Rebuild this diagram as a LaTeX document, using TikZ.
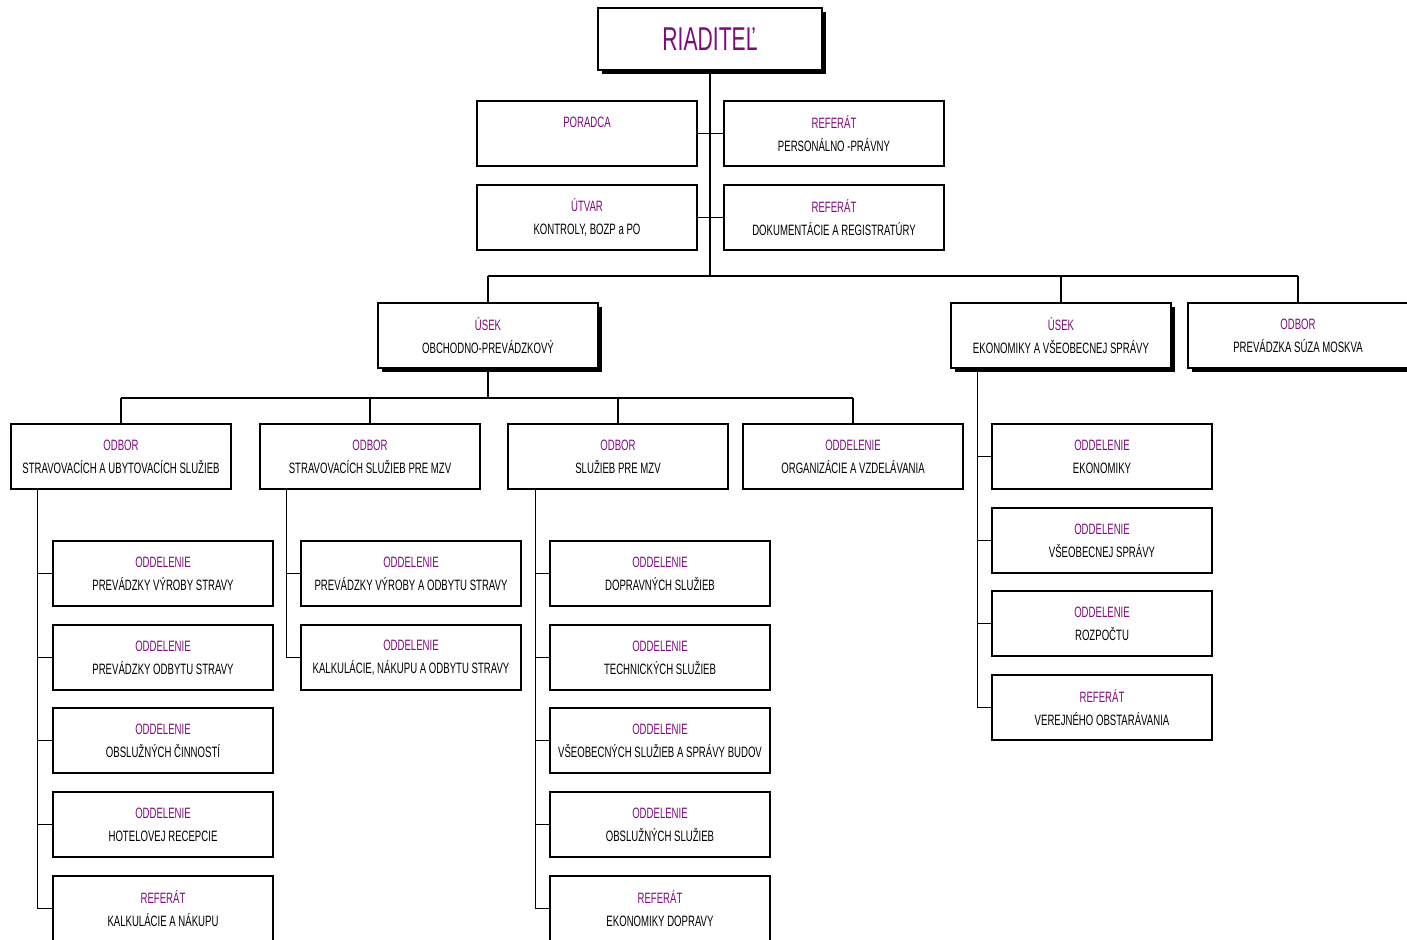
\documentclass[tikz,border=0pt]{standalone}
\usepackage{fontspec}
\setmainfont{Liberation Sans}[FakeStretch=0.64]
\usetikzlibrary{shadows}
\definecolor{labc}{RGB}{128,10,128}
\newcommand{\lb}[1]{\textcolor{labc}{#1}}
\begin{document}
\begin{tikzpicture}[x=1pt,y=-1pt,
  box/.style={draw=black, line width=1.4pt, fill=white, minimum width=220pt, minimum height=65pt,
    inner sep=0pt, align=center, font=\fontsize{15}{23}\selectfont},
  sbox/.style={box, drop shadow={shadow xshift=4pt, shadow yshift=-4pt, fill=black, opacity=1}},
  con/.style={line width=1.3pt}]
\useasboundingbox[fill=white] (0,0) rectangle (1407,939);
\clip (0,0) rectangle (1407,939);

% top
\node[sbox, minimum width=224pt, minimum height=62pt, font=\fontsize{33}{33}\selectfont] (riad) at (710,39) {\lb{RIADITEĽ}};
\node[box] (porad) at (587,133.5) {\lb{PORADCA}\\\phantom{Y}};
\node[box] (refpers) at (834,133.5) {\lb{REFERÁT}\\PERSONÁLNO -PRÁVNY};
\node[box] (utvar) at (587,217.5) {\lb{ÚTVAR}\\KONTROLY, BOZP a PO};
\node[box] (refdok) at (834,217.5) {\lb{REFERÁT}\\DOKUMENTÁCIE A REGISTRATÚRY};

% level 2
\node[sbox] (usekO) at (488,335.5) {\lb{ÚSEK}\\OBCHODNO-PREVÁDZKOVÝ};
\node[sbox] (usekE) at (1061,335.5) {\lb{ÚSEK}\\EKONOMIKY A VŠEOBECNEJ SPRÁVY};
\node[sbox] (odborP) at (1298,335.5) {\lb{ODBOR}\\PREVÁDZKA SÚZA MOSKVA};

% level 3
\node[box] (odbor1) at (121,456.5) {\lb{ODBOR}\\STRAVOVACÍCH A UBYTOVACÍCH SLUŽIEB};
\node[box] (odbor2) at (370,456.5) {\lb{ODBOR}\\STRAVOVACÍCH SLUŽIEB PRE MZV};
\node[box] (odbor3) at (618,456.5) {\lb{ODBOR}\\SLUŽIEB PRE MZV};
\node[box] (odd4) at (853,456.5) {\lb{ODDELENIE}\\ORGANIZÁCIE A VZDELÁVANIA};

% left column
\node[box] (L1) at (163,573.5) {\lb{ODDELENIE}\\PREVÁDZKY VÝROBY STRAVY};
\node[box] (L2) at (163,657.5) {\lb{ODDELENIE}\\PREVÁDZKY ODBYTU STRAVY};
\node[box] (L3) at (163,740.5) {\lb{ODDELENIE}\\OBSLUŽNÝCH ČINNOSTÍ};
\node[box] (L4) at (163,824.5) {\lb{ODDELENIE}\\HOTELOVEJ RECEPCIE};
\node[box] (L5) at (163,908.5) {\lb{REFERÁT}\\KALKULÁCIE A NÁKUPU};

% second column
\node[box] (M1) at (411,573.5) {\lb{ODDELENIE}\\PREVÁDZKY VÝROBY A ODBYTU STRAVY};
\node[box] (M2) at (411,657.5) {\lb{ODDELENIE}\\KALKULÁCIE, NÁKUPU A ODBYTU STRAVY};

% third column
\node[box] (T1) at (660,573.5) {\lb{ODDELENIE}\\DOPRAVNÝCH SLUŽIEB};
\node[box] (T2) at (660,657.5) {\lb{ODDELENIE}\\TECHNICKÝCH SLUŽIEB};
\node[box] (T3) at (660,740.5) {\lb{ODDELENIE}\\VŠEOBECNÝCH SLUŽIEB A SPRÁVY BUDOV};
\node[box] (T4) at (660,824.5) {\lb{ODDELENIE}\\OBSLUŽNÝCH SLUŽIEB};
\node[box] (T5) at (660,908.5) {\lb{REFERÁT}\\EKONOMIKY DOPRAVY};

% right column
\node[box] (R1) at (1102,456.5) {\lb{ODDELENIE}\\EKONOMIKY};
\node[box] (R2) at (1102,540.5) {\lb{ODDELENIE}\\VŠEOBECNEJ SPRÁVY};
\node[box] (R3) at (1102,623.5) {\lb{ODDELENIE}\\ROZPOČTU};
\node[box] (R4) at (1102,707.5) {\lb{REFERÁT}\\VEREJNÉHO OBSTARÁVANIA};

% connectors
\coordinate (bus0) at (710,276);
\coordinate (bus1) at (487,398);
\draw[con] (riad.south) -- (riad.south |- bus0);
\draw[con] (porad.east) -- (refpers.west);
\draw[con] (utvar.east) -- (refdok.west);
\draw[con] (usekO.north |- bus0) -- (odborP.north |- bus0);
\foreach \n in {usekO,usekE,odborP} \draw[con] (\n.north |- bus0) -- (\n.north);

\draw[con] (usekO.south) -- (usekO.south |- bus1);
\draw[con] (odbor1.north |- bus1) -- (odd4.north |- bus1);
\foreach \n in {odbor1,odbor2,odbor3,odd4} \draw[con] (\n.north |- bus1) -- (\n.north);

\coordinate (vL) at ([xshift=27pt]odbor1.south west);
\draw[con] (vL) |- (L5.west);
\foreach \n in {L1,L2,L3,L4} \draw[con] (vL |- \n.west) -- (\n.west);

\coordinate (vM) at ([xshift=27pt]odbor2.south west);
\draw[con] (vM) |- (M2.west);
\draw[con] (vM |- M1.west) -- (M1.west);

\coordinate (vT) at ([xshift=28pt]odbor3.south west);
\draw[con] (vT) |- (T5.west);
\foreach \n in {T1,T2,T3,T4} \draw[con] (vT |- \n.west) -- (\n.west);

\coordinate (vE) at ([xshift=27pt]usekE.south west);
\draw[con] (vE) |- (R4.west);
\foreach \n in {R1,R2,R3} \draw[con] (vE |- \n.west) -- (\n.west);
\end{tikzpicture}
\end{document}
